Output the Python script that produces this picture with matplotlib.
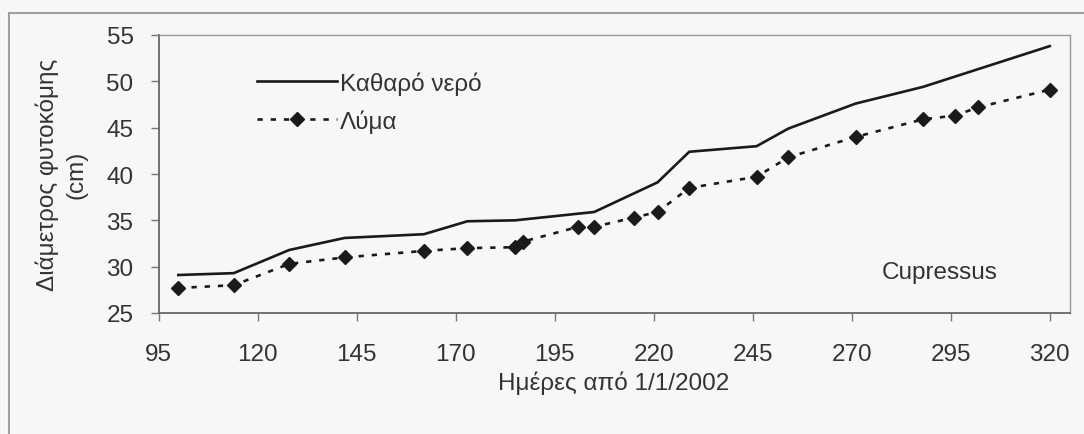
import matplotlib
matplotlib.use("Agg")
import matplotlib.pyplot as plt
from matplotlib.lines import Line2D

plt.rcParams["font.family"] = ["Liberation Sans", "DejaVu Sans"]

# days since 1/1/2002
days_clean = [100, 114, 128, 142, 162, 173, 185, 205, 221, 229, 246, 254, 271, 288, 320]
diam_clean = [29.1, 29.3, 31.8, 33.1, 33.5, 34.9, 35.0, 35.9, 39.1, 42.4, 43.0, 44.9, 47.6, 49.4, 53.8]

days_waste = [100, 114, 128, 142, 162, 173, 185, 187, 201, 205, 215, 221, 229, 246, 254, 271, 288, 296, 302, 320]
diam_waste = [27.7, 28.0, 30.3, 31.0, 31.7, 32.0, 32.1, 32.7, 34.3, 34.3, 35.3, 35.9, 38.5, 39.7, 41.8, 44.0, 45.9, 46.3, 47.2, 49.1]

x_ticks = list(range(95, 321, 25))
y_ticks = list(range(25, 56, 5))

BG = "#f7f7f7"
TXT = "#333333"
FS = 17.5

fig = plt.figure(figsize=(10.84, 4.35), dpi=100, facecolor=BG)
ax = fig.add_axes([158.5 / 1084, 1 - 314 / 435, 911 / 1084, 278 / 435], facecolor=BG)

ax.plot(days_clean, diam_clean, color="#1a1a1a", lw=1.9, label="Καθαρό νερό")
ax.plot(days_waste, diam_waste, color="#1a1a1a", lw=1.9, ls=(0, (2.0, 3.0)),
        marker="D", ms=7, mfc="#1a1a1a", mec="#1a1a1a", label="Λύμα")

ax.set_xlim(95, 325)
ax.set_ylim(25, 55)
ax.set_xticks(x_ticks)
ax.set_yticks(y_ticks)
ax.tick_params(axis="both", direction="out", length=6, width=1, color="#777777",
               labelsize=FS, labelcolor=TXT)
ax.tick_params(axis="x", pad=15.5)
ax.tick_params(axis="y", pad=12)

for side in ["left", "bottom"]:
    ax.spines[side].set_color("#666666")
    ax.spines[side].set_linewidth(1.3)
for side in ["top", "right"]:
    ax.spines[side].set_color("#9a9a9a")
    ax.spines[side].set_linewidth(1.0)

ax.set_xlabel("Ημέρες από 1/1/2002", fontsize=FS, color=TXT, va="center")
ax.xaxis.set_label_coords(0.5, -0.25)
ax.set_ylabel("Διάμετρος φυτοκόμης\n(cm)", fontsize=FS, color=TXT,
              ha="center", va="center", multialignment="center", linespacing=1.4)
ax.yaxis.set_label_coords(-0.1065, 0.5)

ax.text(0.858, 0.148, "Cupressus", transform=ax.transAxes, fontsize=FS,
        color=TXT, ha="center", va="center")

ax.legend(loc="upper left", bbox_to_anchor=(0.108, 0.870), frameon=False,
          fontsize=FS, labelcolor=TXT, handlelength=3.3, handletextpad=0.1,
          labelspacing=0.6, borderpad=0, borderaxespad=0)

# outer chart frame
fig.add_artist(Line2D([8.5 / 1084, 8.5 / 1084], [0, 1 - 13.5 / 435],
                      transform=fig.transFigure, color="#a0a0a0", lw=1.5))
fig.add_artist(Line2D([8.5 / 1084, 1], [1 - 13.5 / 435, 1 - 13.5 / 435],
                      transform=fig.transFigure, color="#a0a0a0", lw=1.5))

fig.savefig("out.png", dpi=100, facecolor=BG)
